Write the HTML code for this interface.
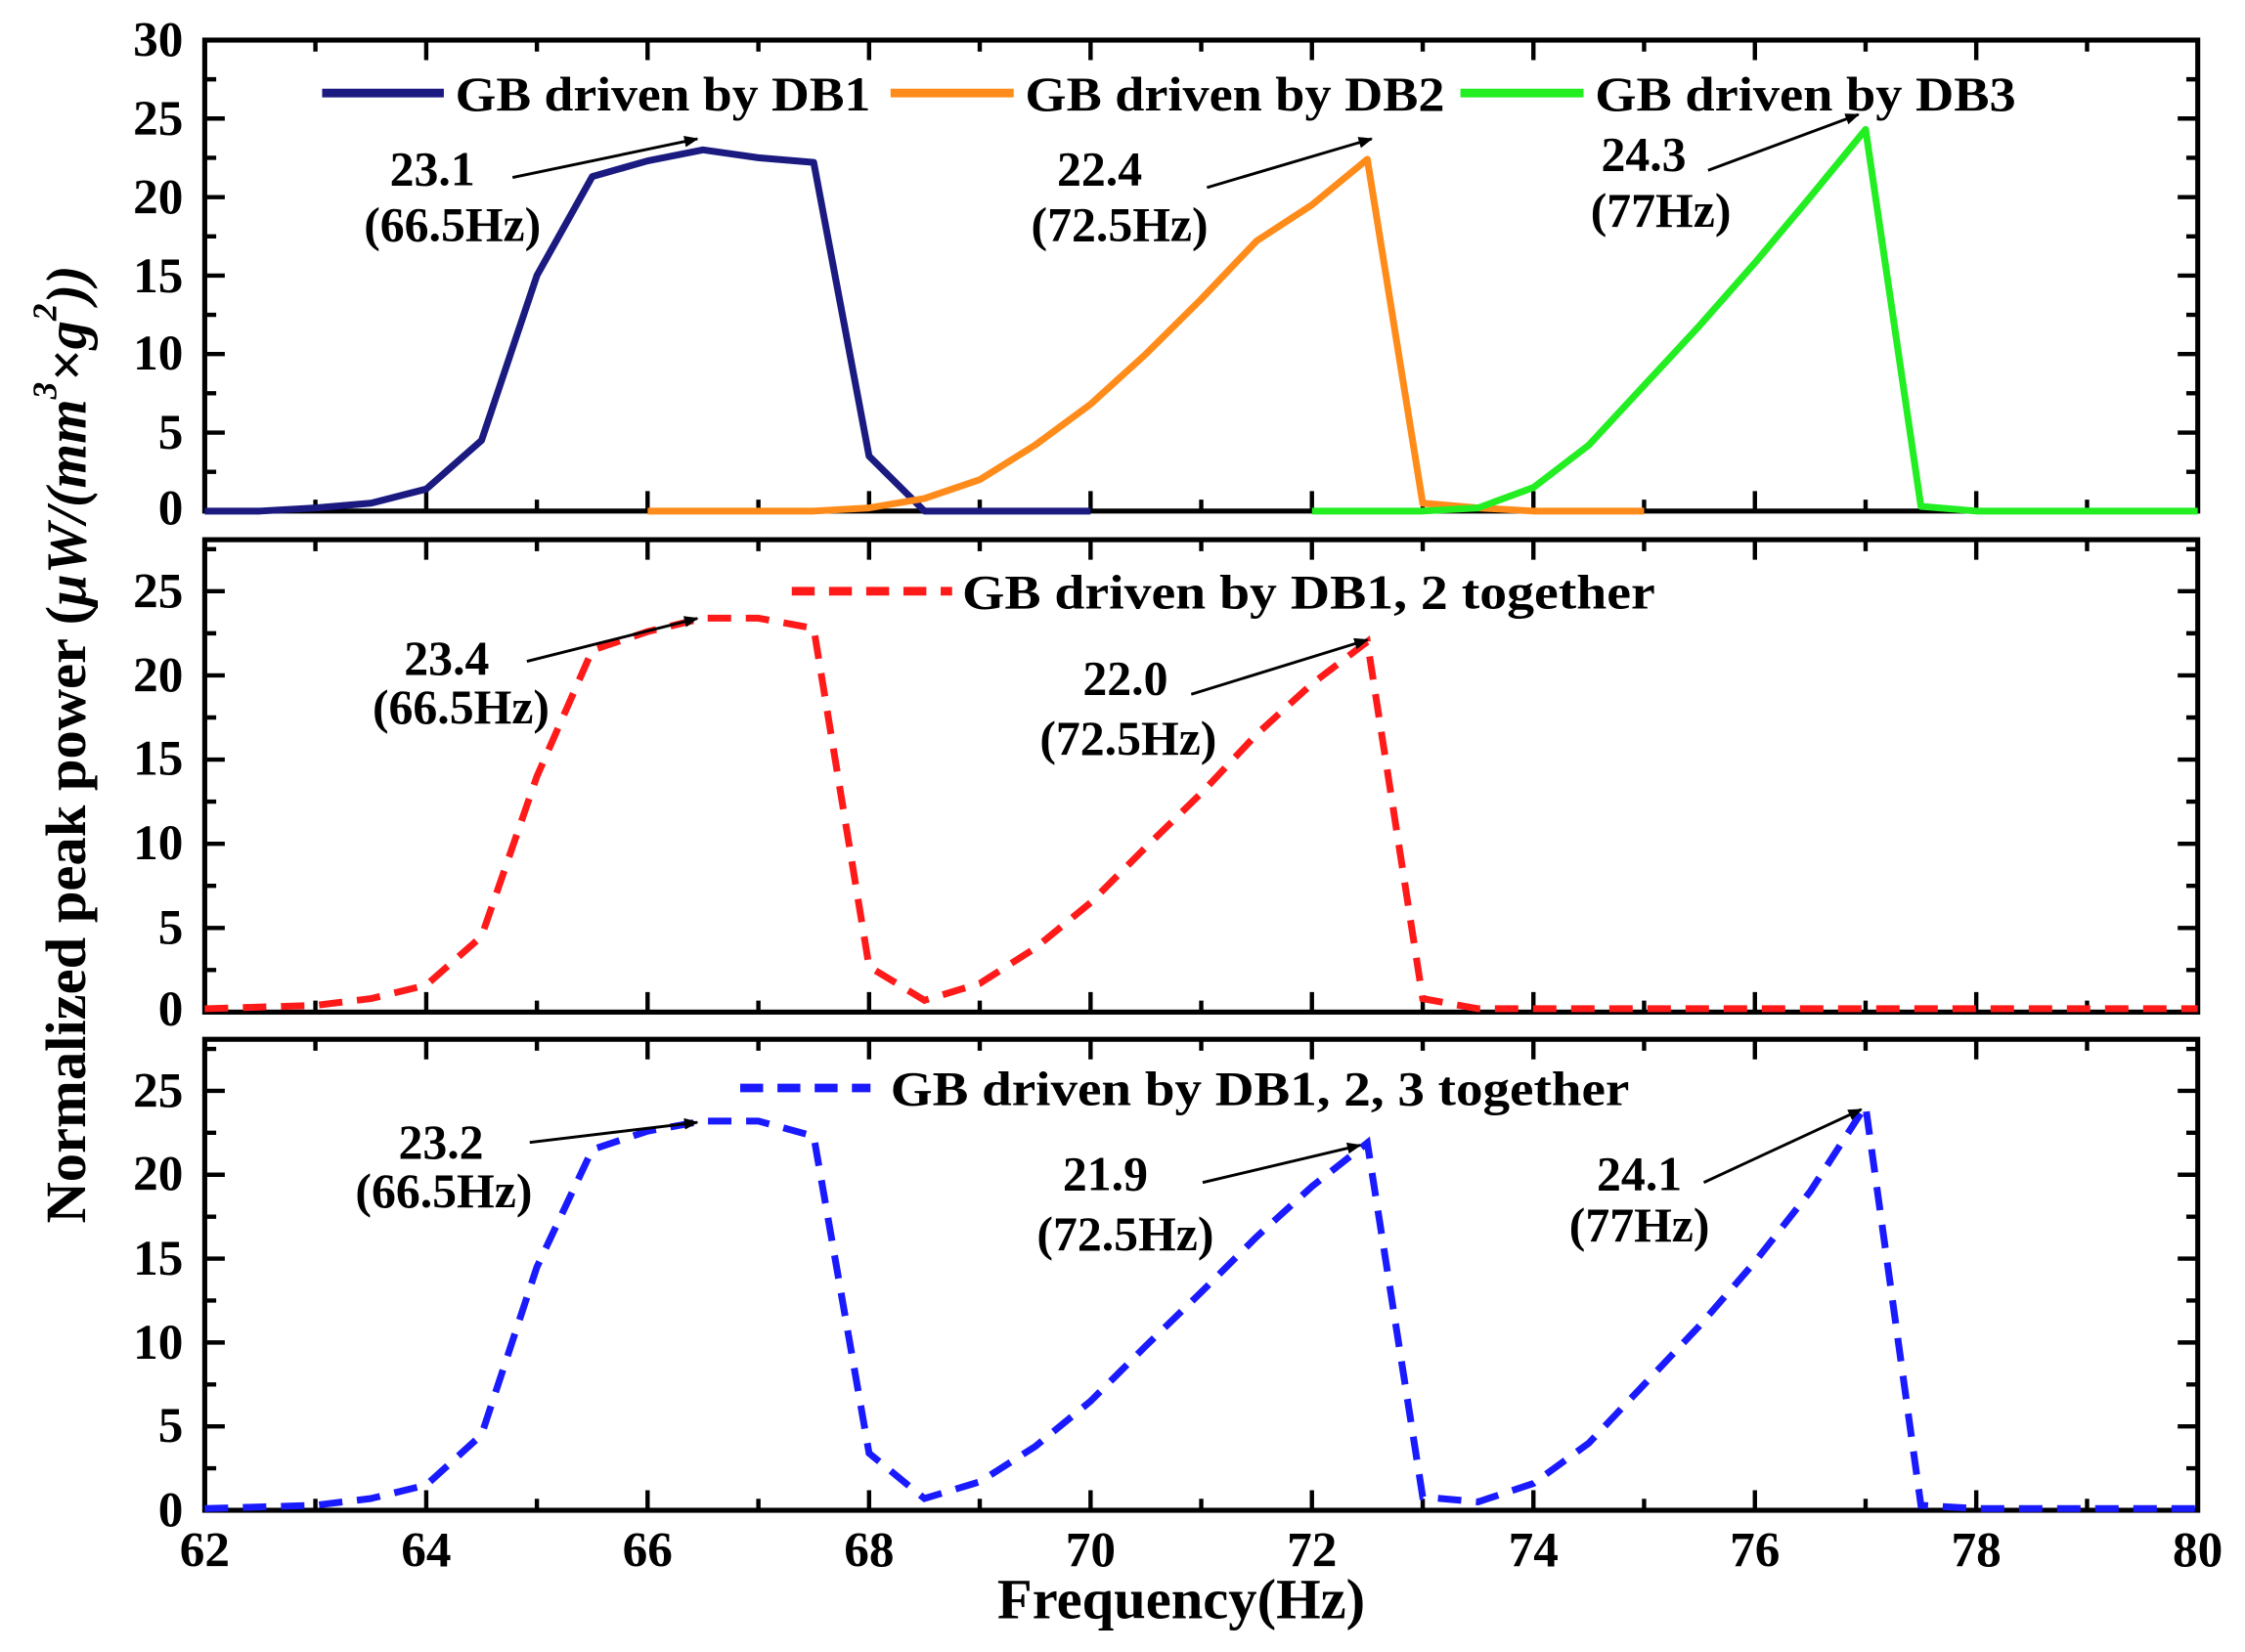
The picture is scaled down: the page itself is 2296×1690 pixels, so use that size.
<!DOCTYPE html>
<html><head><meta charset="utf-8"><style>
html,body{margin:0;padding:0;background:#fff;}
svg{display:block;}
text{font-family:"Liberation Serif",serif;font-weight:bold;fill:#000;}
</style></head><body>
<svg width="2296" height="1690" viewBox="0 0 1568 1154" preserveAspectRatio="none" xmlns="http://www.w3.org/2000/svg">
<defs>
<path id="xt" d="M220.3 0v8M297.7 0v14M375 0v8M452.3 0v14M529.7 0v8M607 0v14M684.3 0v8M761.7 0v14M839 0v8M916.3 0v14M993.7 0v8M1071 0v14M1148.3 0v8M1225.7 0v14M1303 0v8M1380.3 0v14M1457.7 0v8" stroke="#000" stroke-width="3" fill="none"/>
<marker id="ah" viewBox="0 0 10 10" refX="9" refY="5" markerWidth="10" markerHeight="10" orient="auto" markerUnits="userSpaceOnUse"><path d="M0 1L10 5L0 9z" fill="#000"/></marker>
</defs>
<g fill="none" stroke="#000" stroke-width="3.5">
<rect x="143" y="28" width="1392" height="329"/>
<rect x="143" y="377" width="1392" height="330"/>
<rect x="143" y="726" width="1392" height="329"/>
</g>
<use href="#xt" transform="translate(0,28)"/>
<use href="#xt" transform="translate(0,357) scale(1,-1)"/>
<use href="#xt" transform="translate(0,377)"/>
<use href="#xt" transform="translate(0,707) scale(1,-1)"/>
<use href="#xt" transform="translate(0,726)"/>
<use href="#xt" transform="translate(0,1055) scale(1,-1)"/>
<g stroke="#000" stroke-width="3" fill="none">
<path d="M143 329.6h8M143 302.2h14M143 274.7h8M143 247.3h14M143 219.9h8M143 192.5h14M143 165.1h8M143 137.7h14M143 110.2h8M143 82.8h14M143 55.4h8"/>
<path d="M1535 329.6h-8M1535 302.2h-14M1535 274.7h-8M1535 247.3h-14M1535 219.9h-8M1535 192.5h-14M1535 165.1h-8M1535 137.7h-14M1535 110.2h-8M1535 82.8h-14M1535 55.4h-8"/>
<path d="M143 677.6h8M143 648.2h14M143 618.8h8M143 589.4h14M143 560h8M143 530.6h14M143 501.2h8M143 471.8h14M143 442.4h8M143 413h14M143 383.6h8"/>
<path d="M1535 677.6h-8M1535 648.2h-14M1535 618.8h-8M1535 589.4h-14M1535 560h-8M1535 530.6h-14M1535 501.2h-8M1535 471.8h-14M1535 442.4h-8M1535 413h-14M1535 383.6h-8"/>
<path d="M143 1025.7h8M143 996.4h14M143 967.1h8M143 937.8h14M143 908.5h8M143 879.2h14M143 849.9h8M143 820.6h14M143 791.3h8M143 762h14M143 732.7h8"/>
<path d="M1535 1025.7h-8M1535 996.4h-14M1535 967.1h-8M1535 937.8h-14M1535 908.5h-8M1535 879.2h-14M1535 849.9h-8M1535 820.6h-14M1535 791.3h-8M1535 762h-14M1535 732.7h-8"/>
</g>
<g font-size="35" text-anchor="end" dominant-baseline="central">
<text x="128" y="28">30</text><text x="128" y="83">25</text><text x="128" y="138">20</text><text x="128" y="193">15</text><text x="128" y="247">10</text><text x="128" y="302">5</text><text x="128" y="355">0</text>
<text x="128" y="413">25</text><text x="128" y="472">20</text><text x="128" y="530">15</text><text x="128" y="589">10</text><text x="128" y="648">5</text><text x="128" y="705">0</text>
<text x="128" y="762">25</text><text x="128" y="820">20</text><text x="128" y="879">15</text><text x="128" y="938">10</text><text x="128" y="996">5</text><text x="128" y="1055">0</text>
</g>
<g font-size="35" text-anchor="middle" dominant-baseline="central">
<text x="143" y="1083">62</text><text x="297.7" y="1083">64</text><text x="452.3" y="1083">66</text><text x="607" y="1083">68</text><text x="761.7" y="1083">70</text><text x="916.3" y="1083">72</text><text x="1071" y="1083">74</text><text x="1225.7" y="1083">76</text><text x="1380.3" y="1083">78</text><text x="1535" y="1083">80</text>
</g>
<text x="825" y="1117" font-size="40" text-anchor="middle" dominant-baseline="central">Frequency(Hz)</text>
<text transform="translate(46,520) rotate(-90)" font-size="40" text-anchor="middle" dominant-baseline="central">Normalized peak power (<tspan font-style="italic">μW/(mm<tspan font-size="24" dy="-15">3</tspan><tspan dy="15">×g</tspan><tspan font-size="24" dy="-15">2</tspan><tspan dy="15">))</tspan></tspan></text>

<g transform="translate(143,357) scale(77.333,-10.97)" fill="none" stroke-linejoin="round">
<polyline vector-effect="non-scaling-stroke" stroke="#1a1a80" stroke-width="7" points="0,0 0.5,0 1,0.2 1.5,0.5 2,1.4 2.5,4.5 3,15 3.5,21.3 4,22.3 4.5,23 5,22.5 5.5,22.2 6,3.5 6.5,0 7,0 8,0"/>
<polyline vector-effect="non-scaling-stroke" stroke="#ff8c1a" stroke-width="7" points="4,0 5,0 5.5,0 6,0.2 6.5,0.8 7,2 7.5,4.2 8,6.8 8.5,10 9,13.5 9.5,17.2 10,19.5 10.5,22.4 11,0.5 11.5,0.2 12,0 13,0"/>
<polyline vector-effect="non-scaling-stroke" stroke="#22ee22" stroke-width="7" points="10,0 11,0 11.5,0.2 12,1.5 12.5,4.2 13,8 13.5,11.8 14,15.8 14.5,20 15,24.3 15.5,0.3 16,0 18,0"/>
</g>
<g transform="translate(143,707) scale(77.333,-11.76)" fill="none">
<polyline vector-effect="non-scaling-stroke" stroke="#ff1a1a" stroke-width="7" stroke-dasharray="24,15" points="0,0.2 1,0.4 1.5,0.8 2,1.6 2.5,4.5 3,14 3.5,21.5 4,22.6 4.5,23.4 5,23.4 5.5,22.8 6,2.7 6.5,0.7 7,1.7 7.5,3.8 8,6.5 8.5,9.8 9,13 9.5,16.5 10,19.5 10.5,22 11,0.8 11.5,0.2 18,0.2"/>
</g>
<g transform="translate(143,1055) scale(77.333,-11.72)" fill="none">
<polyline vector-effect="non-scaling-stroke" stroke="#1a1aff" stroke-width="7" stroke-dasharray="24,15" points="0,0.1 1,0.3 1.5,0.7 2,1.5 2.5,4.5 3,14.5 3.5,21.5 4,22.6 4.5,23.2 5,23.2 5.5,22.3 6,3.4 6.5,0.7 7,1.7 7.5,3.8 8,6.5 8.5,9.8 9,13 9.5,16.3 10,19.3 10.5,21.9 11,0.8 11.5,0.5 12,1.6 12.5,4 13,7.5 13.5,11 14,14.8 14.5,19 15,24.1 15.5,0.3 16,0.1 18,0.1"/>
</g>

<line x1="225" y1="65" x2="310" y2="65" stroke="#1a1a80" stroke-width="6"/>
<text x="318" y="77" font-size="34" textLength="290" lengthAdjust="spacingAndGlyphs">GB driven by DB1</text>
<line x1="622" y1="65" x2="708" y2="65" stroke="#ff8c1a" stroke-width="6"/>
<text x="716" y="77" font-size="34" textLength="293" lengthAdjust="spacingAndGlyphs">GB driven by DB2</text>
<line x1="1020" y1="65" x2="1106" y2="65" stroke="#22ee22" stroke-width="6"/>
<text x="1114" y="77" font-size="34" textLength="294" lengthAdjust="spacingAndGlyphs">GB driven by DB3</text>
<line x1="553" y1="413" x2="665" y2="413" stroke="#ff1a1a" stroke-width="6" stroke-dasharray="16,10"/>
<text x="672" y="425" font-size="34" textLength="484" lengthAdjust="spacingAndGlyphs">GB driven by DB1, 2 together</text>
<line x1="517" y1="760" x2="608" y2="760" stroke="#1a1aff" stroke-width="6" stroke-dasharray="16,10"/>
<text x="622" y="772" font-size="34" textLength="516" lengthAdjust="spacingAndGlyphs">GB driven by DB1, 2, 3 together</text>

<g font-size="34" text-anchor="middle" dominant-baseline="central">
<text x="302" y="118">23.1</text><text x="316" y="157">(66.5Hz)</text>
<text x="768" y="118">22.4</text><text x="782" y="157">(72.5Hz)</text>
<text x="1148" y="108">24.3</text><text x="1160" y="147">(77Hz)</text>
<text x="312" y="460">23.4</text><text x="322" y="494">(66.5Hz)</text>
<text x="786" y="474">22.0</text><text x="788" y="516">(72.5Hz)</text>
<text x="308" y="798">23.2</text><text x="310" y="832">(66.5Hz)</text>
<text x="772" y="820">21.9</text><text x="786" y="862">(72.5Hz)</text>
<text x="1145" y="820">24.1</text><text x="1145" y="856">(77Hz)</text>
</g>
<g stroke="#000" stroke-width="2" marker-end="url(#ah)">
<line x1="358" y1="124" x2="487" y2="97"/>
<line x1="843" y1="131" x2="958" y2="97"/>
<line x1="1193" y1="119" x2="1298" y2="80"/>
<line x1="368" y1="462" x2="487" y2="432"/>
<line x1="832" y1="485" x2="955" y2="447"/>
<line x1="370" y1="798" x2="487" y2="784"/>
<line x1="840" y1="826" x2="950" y2="800"/>
<line x1="1190" y1="826" x2="1300" y2="775"/>
</g>
</svg>
</body></html>
